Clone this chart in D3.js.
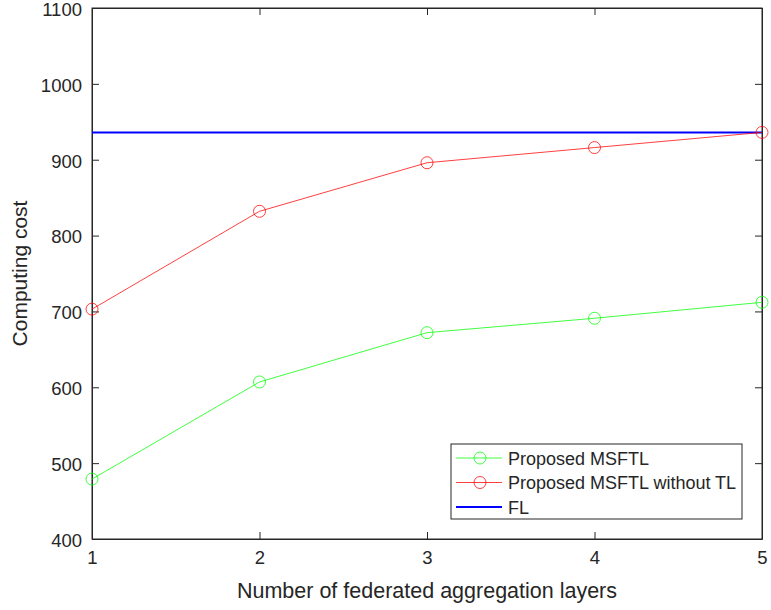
<!DOCTYPE html>
<html>
<head>
<meta charset="utf-8">
<script src="https://cdn.jsdelivr.net/npm/d3@7"></script>
<style>
  html, body { margin: 0; padding: 0; background: #fff; }
  svg { display: block; font-family: "Liberation Sans", Arial, Helvetica, sans-serif; }
</style>
</head>
<body>
<svg id="chart" width="771" height="610"></svg>
<script>
// Number of federated aggregation layers
const layers = [1, 2, 3, 4, 5];
// Computing cost per scheme
const msftl = [479, 607, 672, 691, 712];
const msftlNoTL = [703, 832, 896, 916, 936];
const flCost = 936;

const yTicks = [400, 500, 600, 700, 800, 900, 1000, 1100];
const xTicks = [1, 2, 3, 4, 5];

const seriesNames = ["Proposed MSFTL", "Proposed MSFTL without TL", "FL"];
const seriesColors = ["#00ff00", "#ff0000", "#0000ff"];

const svg = d3.select("#chart");
const m = { left: 92, right: 762, top: 8, bottom: 539 };
const ink = "#262626";
const fontStack = "'Liberation Sans', Arial, Helvetica, sans-serif";

const x = d3.scaleLinear().domain([1, 5]).range([m.left, m.right]);
const y = d3.scaleLinear().domain([400, 1100]).range([m.bottom, m.top]);

// Box frame
svg.append("rect")
  .attr("x", m.left).attr("y", m.top)
  .attr("width", m.right - m.left).attr("height", m.bottom - m.top)
  .attr("fill", "none").attr("stroke", ink).attr("stroke-width", 1);

// Axes with inward ticks
const tickLen = 7;
const bottomAxis = svg.append("g")
  .attr("transform", `translate(0,${m.bottom})`)
  .call(d3.axisBottom(x).tickValues(xTicks).tickFormat(d3.format("d"))
    .tickSizeInner(-tickLen).tickSizeOuter(0).tickPadding(12));
const topAxis = svg.append("g")
  .attr("transform", `translate(0,${m.top})`)
  .call(d3.axisTop(x).tickValues(xTicks).tickFormat("")
    .tickSizeInner(-tickLen).tickSizeOuter(0));
const leftAxis = svg.append("g")
  .attr("transform", `translate(${m.left},0)`)
  .call(d3.axisLeft(y).tickValues(yTicks).tickFormat(d3.format("d"))
    .tickSizeInner(-tickLen).tickSizeOuter(0).tickPadding(10));
const rightAxis = svg.append("g")
  .attr("transform", `translate(${m.right},0)`)
  .call(d3.axisRight(y).tickValues(yTicks).tickFormat("")
    .tickSizeInner(-tickLen).tickSizeOuter(0));

[bottomAxis, topAxis, leftAxis, rightAxis].forEach(g => {
  g.attr("font-size", 18.5).attr("font-family", fontStack);
  g.select(".domain").attr("stroke", ink);
  g.selectAll(".tick line").attr("stroke", ink);
  g.selectAll(".tick text").attr("fill", ink);
});
// Nudge the y labels a touch lower so the top one clears the edge
leftAxis.selectAll(".tick text").attr("dy", "0.4em");

// Axis titles
svg.append("text")
  .attr("x", (m.left + m.right) / 2).attr("y", 598)
  .attr("text-anchor", "middle").attr("fill", ink).attr("font-size", 21.5)
  .text("Number of federated aggregation layers");
svg.append("text")
  .attr("transform", `translate(27,${(m.top + m.bottom) / 2}) rotate(-90)`)
  .attr("text-anchor", "middle").attr("fill", ink).attr("font-size", 21)
  .text("Computing cost");

// FL baseline
svg.append("line")
  .attr("x1", x(1)).attr("x2", x(5))
  .attr("y1", y(flCost)).attr("y2", y(flCost))
  .attr("stroke", seriesColors[2]).attr("stroke-width", 2);

// Line series with circle markers
const line = d3.line().x((d, i) => x(layers[i])).y(d => y(d));
[[msftl, seriesColors[0]], [msftlNoTL, seriesColors[1]]].forEach(([vals, col]) => {
  svg.append("path").datum(vals)
    .attr("d", line).attr("fill", "none")
    .attr("stroke", col).attr("stroke-width", 1).attr("stroke-opacity", 0.75);
  svg.selectAll(null).data(vals).enter().append("circle")
    .attr("cx", (d, i) => x(layers[i])).attr("cy", d => y(d))
    .attr("r", 6).attr("fill", "none")
    .attr("stroke", col).attr("stroke-width", 1).attr("stroke-opacity", 0.75);
});

// Legend
const lg = svg.append("g").attr("transform", "translate(451,444)");
lg.append("rect").attr("width", 291).attr("height", 75)
  .attr("fill", "#fff").attr("stroke", ink).attr("stroke-width", 1);
seriesNames.forEach((name, i) => {
  const cy = 14 + i * 24.5;
  lg.append("line").attr("x1", 5).attr("x2", 51).attr("y1", cy).attr("y2", cy)
    .attr("stroke", seriesColors[i]).attr("stroke-width", i === 2 ? 2 : 1)
    .attr("stroke-opacity", i === 2 ? 1 : 0.75);
  if (i < 2) {
    lg.append("circle").attr("cx", 29).attr("cy", cy).attr("r", 6)
      .attr("fill", "none").attr("stroke", seriesColors[i]).attr("stroke-opacity", 0.75);
  }
  lg.append("text").attr("x", 57).attr("y", cy + 6.5)
    .attr("fill", ink).attr("font-size", 18).text(name);
});
</script>
</body>
</html>
